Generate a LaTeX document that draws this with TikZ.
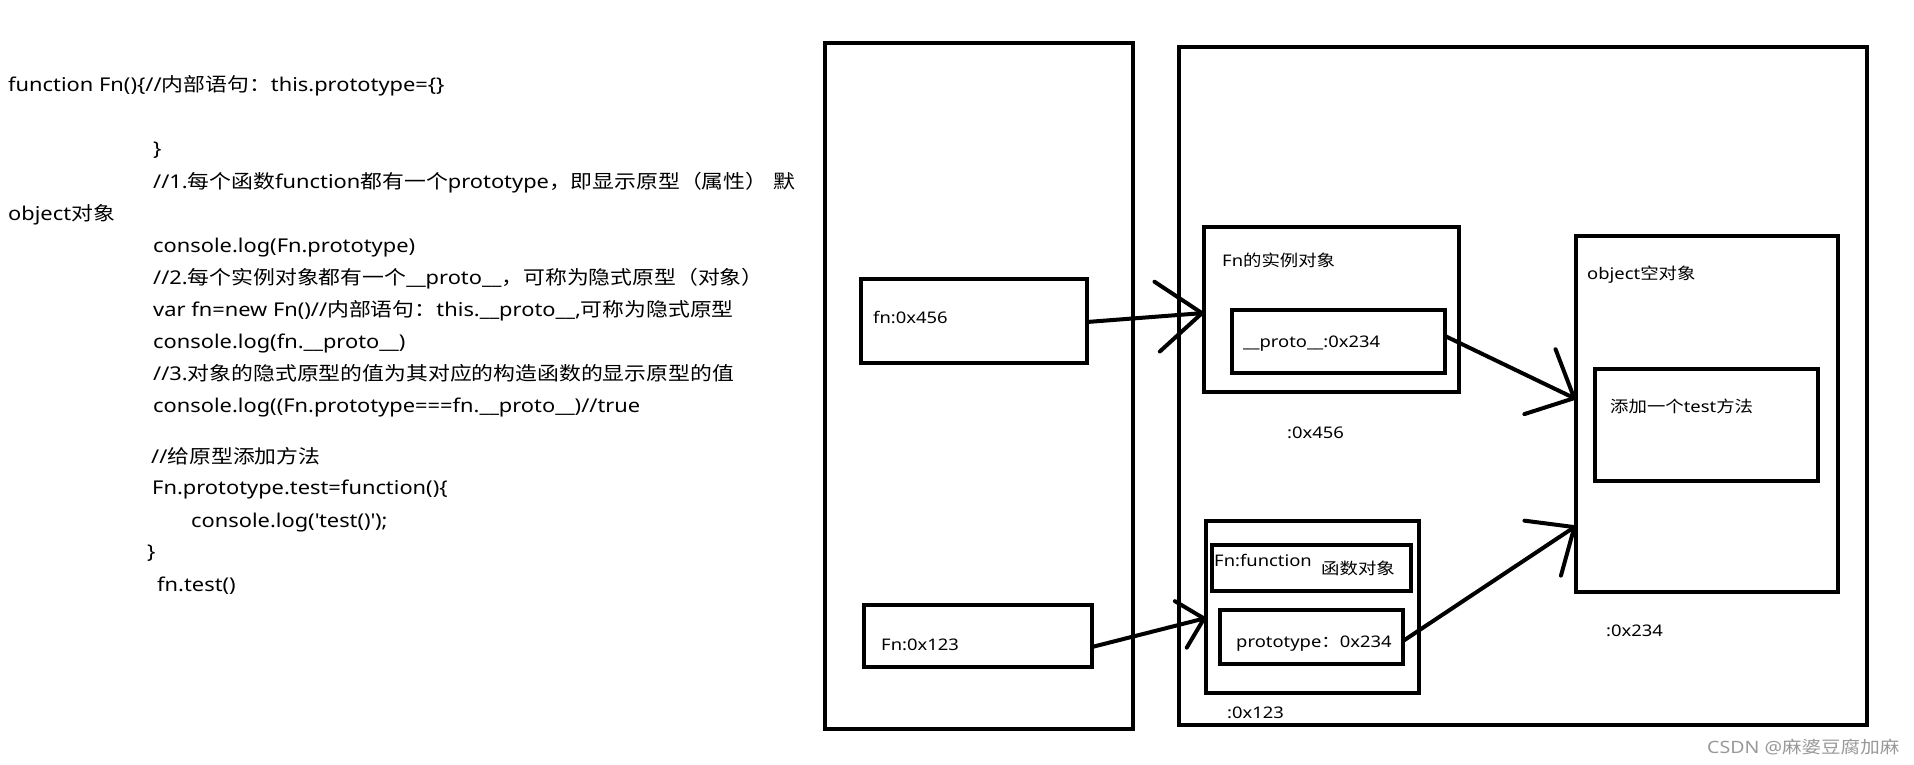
\documentclass[tikz,border=0pt]{standalone}
\usepackage{fontspec}
\setmainfont{Noto Sans}[FakeStretch=1.15]
\newfontfamily\cjk{Noto Sans CJK SC}[FakeStretch=1.15]
\newcommand\zhs[1]{{\cjk #1}}
\usetikzlibrary{arrows.meta}

\tikzset{
  codeline/.style={anchor=base west, inner sep=0pt, font=\fontsize{19}{23}\selectfont},
  lbl/.style={anchor=base west, inner sep=0pt, font=\fontsize{16}{19}\selectfont},
  membox/.style={draw, line width=4.3pt, inner sep=0pt, outer sep=0pt},
  link/.style={line width=4pt, line cap=round, line join=round}
}

\begin{document}
\begin{tikzpicture}[x=1pt, y=-1pt]
\fill[white] (0,0) rectangle (1914,765);
\useasboundingbox (0,0) rectangle (1914,765);

% ---- source code ----
\node[codeline] (c1)  at (8,92)    {function Fn()\{//\zhs{内部语句：}this.prototype=\{\}};
\node[codeline] (c2)  at (153,156) {\}};
\node[codeline] (c3)  at (153,188) {//1.\zhs{每个函数}function\zhs{都有一个}prototype\zhs{，即显示原型（属性）} \zhs{默}};
\node[codeline] (c4)  at (8,220)   {object\zhs{对象}};
\node[codeline] (c5)  at (153,252) {console.log(Fn.prototype)};
\node[codeline] (c6)  at (153,284) {//2.\zhs{每个实例对象都有一个}\_\_proto\_\_\zhs{，可称为隐式原型（对象）}};
\node[codeline] (c7)  at (153,316) {var fn=new Fn()//\zhs{内部语句：}this.\_\_proto\_\_,\zhs{可称为隐式原型}};
\node[codeline] (c8)  at (153,348) {console.log(fn.\_\_proto\_\_)};
\node[codeline] (c9)  at (153,380) {//3.\zhs{对象的隐式原型的值为其对应的构造函数的显示原型的值}};
\node[codeline] (c10) at (153,412) {console.log((Fn.prototype===fn.\_\_proto\_\_)//true};
\node[codeline] (c11) at (151,463) {//\zhs{给原型添加方法}};
\node[codeline] (c12) at (152,494) {Fn.prototype.test=function()\{};
\node[codeline] (c13) at (191,527) {console.log(\textquotesingle test()\textquotesingle);};
\node[codeline] (c14) at (147,558) {\}};
\node[codeline] (c15) at (157,591) {fn.test()};

% ---- stack ----
\node[membox, minimum width=308pt, minimum height=686pt] (stack) at (979,386) {};
\node[membox, minimum width=226pt, minimum height=84pt] (fnA) at (974,321) {};
\node[lbl] (fnAt) at (873,323) {fn:0x456};
\node[membox, minimum width=228pt, minimum height=62pt] (fnB) at (978,636) {};
\node[lbl] (fnBt) at (881,650) {Fn:0x123};

% ---- heap ----
\node[membox, minimum width=688pt, minimum height=678pt] (heap) at (1523,386) {};

\node[membox, minimum width=255pt, minimum height=165pt] (inst) at (1331.5,309.5) {};
\node[lbl] (instt) at (1222,266) {Fn\zhs{的实例对象}};
\node[membox, minimum width=213pt, minimum height=63pt] (proto) at (1338.5,341.5) {};
\node[lbl] (protot) at (1243,347) {\_\_proto\_\_:0x234};
\node[lbl] (insta) at (1287,438) {:0x456};

\node[membox, minimum width=262pt, minimum height=356pt] (obj) at (1707,414) {};
\node[lbl] (objt) at (1587,279) {object\zhs{空对象}};
\node[membox, minimum width=223pt, minimum height=112pt] (add) at (1706.5,425) {};
\node[lbl] (addt) at (1610,412) {\zhs{添加一个}test\zhs{方法}};
\node[lbl] (obja) at (1606,636) {:0x234};

\node[membox, minimum width=213pt, minimum height=172pt] (func) at (1312.5,607) {};
\node[membox, minimum width=199pt, minimum height=46pt] (fname) at (1311.5,568) {};
\node[lbl] (fnamet) at (1214,566) {Fn:function};
\node[lbl] (fnamez) at (1321,574.5) {\zhs{函数对象}};
\node[membox, minimum width=183pt, minimum height=54pt] (protoB) at (1311.5,637) {};
\node[lbl] (protoBt) at (1236,647) {prototype\zhs{：}0x234};
\node[lbl] (funca) at (1227,718) {:0x123};

% ---- references ----
\draw[link, -{Straight Barb[round,length=45pt,width=70pt]}]
  ([yshift=-1pt]fnA.east) -- ([yshift=-3.5pt]inst.west);
\draw[link, -{Straight Barb[round,length=38pt,width=72pt]}]
  ([yshift=5.5pt]proto.east) -- ([yshift=15pt]obj.west);
\draw[link, -{Straight Barb[round,length=38pt,width=66pt]}]
  ([yshift=-4pt]protoB.east) -- ([yshift=-112pt]obj.west);
\draw[link, -{Straight Barb[round,length=24pt,width=48pt]}]
  ([yshift=-11pt]fnB.east) -- ([yshift=-11pt]func.west);

% ---- watermark ----
\node[anchor=base west, inner sep=0pt, text=black!40, font=\fontsize{17}{20}\selectfont] (wm) at (1707,753) {CSDN @\zhs{麻婆豆腐加麻}};
\end{tikzpicture}
\end{document}
